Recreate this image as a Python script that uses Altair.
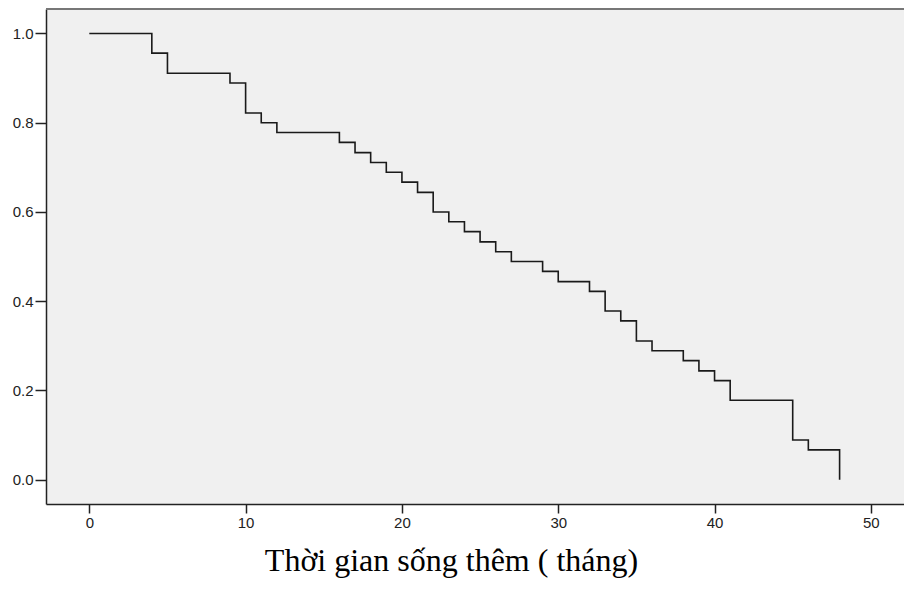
import altair as alt
import pandas as pd

# Kaplan-Meier survival estimate
time_months = [0, 4, 5, 9, 10, 11, 12, 16, 17, 18, 19, 20, 21, 22, 23, 24, 25,
               26, 27, 29, 30, 32, 33, 34, 35, 36, 38, 39, 40, 41, 45, 46, 48]
survival = [1.0, 0.956, 0.911, 0.889, 0.822, 0.800, 0.778, 0.756, 0.733, 0.711,
            0.689, 0.667, 0.644, 0.600, 0.578, 0.556, 0.533, 0.511, 0.489, 0.467,
            0.444, 0.422, 0.378, 0.356, 0.311, 0.289, 0.267, 0.244, 0.222, 0.178,
            0.089, 0.067, 0.0]
x_ticks = [0, 10, 20, 30, 40, 50]
y_ticks = [0.0, 0.2, 0.4, 0.6, 0.8, 1.0]

df = pd.DataFrame({"t": time_months, "s": survival})

W, H = 858, 495

x_scale = alt.Scale(domain=[-2.77, 52.12], nice=False, zero=False)
y_scale = alt.Scale(domain=[-0.0544, 1.0549], nice=False, zero=False)

line = alt.Chart(df).mark_line(
    interpolate="step-after", color="#1a1a1a", strokeWidth=1.6, clip=True
).encode(
    x=alt.X("t:Q", scale=x_scale,
            axis=alt.Axis(values=x_ticks, format="d", grid=False,
                          title="Thời gian sống thêm ( tháng)",
                          titleFont="Liberation Serif", titleFontSize=32,
                          titleFontWeight="normal", titleColor="#000000",
                          titleX=405, titleY=66, titleAlign="center",
                          titleBaseline="alphabetic", titleAnchor="start",
                          labelFont="Liberation Sans", labelFontSize=15,
                          labelColor="#222222", labelPadding=2,
                          tickSize=9, tickColor="#222222", tickWidth=1.5,
                          domainColor="#222222", domainWidth=1.5)),
    y=alt.Y("s:Q", scale=y_scale,
            axis=alt.Axis(values=y_ticks, format=".1f", grid=False, title=None,
                          labelFont="Liberation Sans", labelFontSize=15,
                          labelColor="#222222", labelPadding=2,
                          tickSize=11, tickColor="#222222", tickWidth=1.5,
                          domainColor="#222222", domainWidth=1.5)),
)

top_border = alt.Chart(df).mark_rule(color="#777777", strokeWidth=2).encode(
    x=alt.value(0), x2=alt.value(W), y=alt.value(0)
)

chart = alt.layer(line, top_border).properties(
    width=W, height=H,
    autosize=alt.AutoSizeParams(type="none"),
    padding={"left": 46, "top": 9, "right": 0, "bottom": 87},
    background="#ffffff",
).configure_view(fill="#f0f0f0", stroke=None)

chart.save("out.html", embed_options={"renderer": "svg", "actions": False})
